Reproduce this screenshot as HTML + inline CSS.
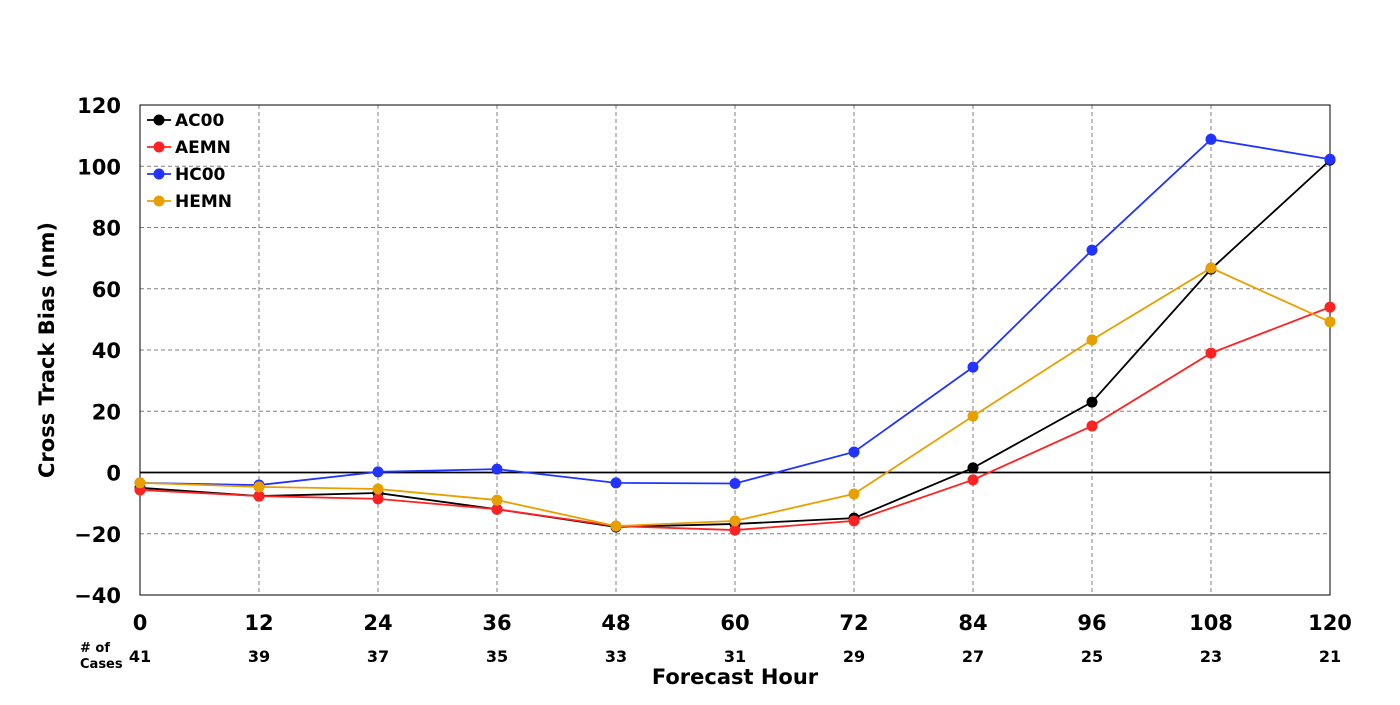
<!DOCTYPE html>
<html><head><meta charset="utf-8"><style>
body{margin:0;background:#fff;}
svg text{font-family:"DejaVu Sans","Liberation Sans",sans-serif;font-weight:bold;}
</style></head><body>
<svg id="chart" width="1400" height="700" xmlns="http://www.w3.org/2000/svg">
<g id="grid"></g>
<g id="axes"></g>
<g id="series"></g>
<g id="legend"></g>
</svg>
<script>
const hours=[0,12,24,36,48,60,72,84,96,108,120];
const cases=[41,39,37,35,33,31,29,27,25,23,21];
const yTicks=[-40,-20,0,20,40,60,80,100,120];
const ac00=[-5,-7.7,-6.7,-12,-17.8,-16.8,-14.9,1.5,23,66.4,102];
const aemn=[-5.7,-7.7,-8.6,-12,-17.5,-18.8,-15.8,-2.4,15.2,39,54];
const hc00=[-3.4,-4.1,0.2,1.1,-3.4,-3.6,6.7,34.4,72.6,108.8,102.3];
const hemn=[-3.4,-4.7,-5.4,-9,-17.5,-15.8,-7,18.4,43.3,66.8,49.2];
const names=["AC00","AEMN","HC00","HEMN"];
const colors=["#000000","#ff2222","#2233ff","#e8a000"];
const seriesData=[ac00,aemn,hc00,hemn];
const L=140,R=1330,T=105,B=595;
const xs=v=>L+(v-0)/(120-0)*(R-L);
const ys=v=>B-(v+40)/160*(B-T);
const NS="http://www.w3.org/2000/svg";
function mk(tag,attrs,parent,txt){const e=document.createElementNS(NS,tag);for(const k in attrs)e.setAttribute(k,attrs[k]);if(txt!==undefined)e.textContent=txt;parent.appendChild(e);return e;}
const grid=document.getElementById('grid'),axes=document.getElementById('axes'),ser=document.getElementById('series'),leg=document.getElementById('legend');
hours.forEach((h,i)=>{
 if(i>0&&i<hours.length-1){const l=mk('line',{x1:xs(h),x2:xs(h),y1:T,y2:B,stroke:'#808080','stroke-dasharray':'4,3','stroke-width':1},grid);
 
 }
 const t=mk('text',{x:xs(h),y:630,'font-size':21,'text-anchor':'middle'},axes,h);
 
 
 const c=mk('text',{x:xs(h),y:662,'font-size':16,'text-anchor':'middle'},axes,cases[i]);
 
 
});
yTicks.forEach(v=>{
 if(v!==-40&&v!==120&&v!==0){const l=mk('line',{x1:L,x2:R,y1:ys(v),y2:ys(v),stroke:'#808080','stroke-dasharray':'4,3','stroke-width':1},grid);
 
 }
 const t=mk('text',{x:121,y:ys(v)+8,'font-size':21,'text-anchor':'end'},axes,v<0?'\u2212'+Math.abs(v):v);
 
 
});
const zl=mk('line',{x1:L,x2:R,y1:ys(0),y2:ys(0),stroke:'#000','stroke-width':1.8},grid);


const fr=mk('rect',{x:L,y:T,width:R-L,height:B-T,fill:'none',stroke:'#000','stroke-width':1},axes);


const yt=mk('text',{x:54,y:(T+B)/2,'font-size':21,'text-anchor':'middle',transform:`rotate(-90 54 ${(T+B)/2})`},axes,'Cross Track Bias (nm)');


const xt=mk('text',{x:735,y:684,'font-size':21,'text-anchor':'middle'},axes,'Forecast Hour');


const c1=mk('text',{x:80,y:652,'font-size':13},axes,'# of');


const c2=mk('text',{x:80,y:668,'font-size':13},axes,'Cases');


seriesData.forEach((d,si)=>{
 const g=mk('g',{},ser);
 
 
 const p=mk('polyline',{points:d.map((v,i)=>xs(hours[i])+','+ys(v)).join(' '),fill:'none',stroke:colors[si],'stroke-width':1.8},g);
 
 
 d.forEach((v,i)=>{const c=mk('circle',{cx:xs(hours[i]),cy:ys(v),r:5.5,fill:colors[si]},g);
 
 });
 const ly=120+si*27;
 const ll=mk('line',{x1:147,x2:171,y1:ly,y2:ly,stroke:colors[si],'stroke-width':1.8},leg);
 
 
 const lc=mk('circle',{cx:159,cy:ly,r:5.5,fill:colors[si]},leg);
 
 
 const lt=mk('text',{x:175,y:ly+6,'font-size':17},leg,names[si]);
 
 
});
</script>
</body></html>
